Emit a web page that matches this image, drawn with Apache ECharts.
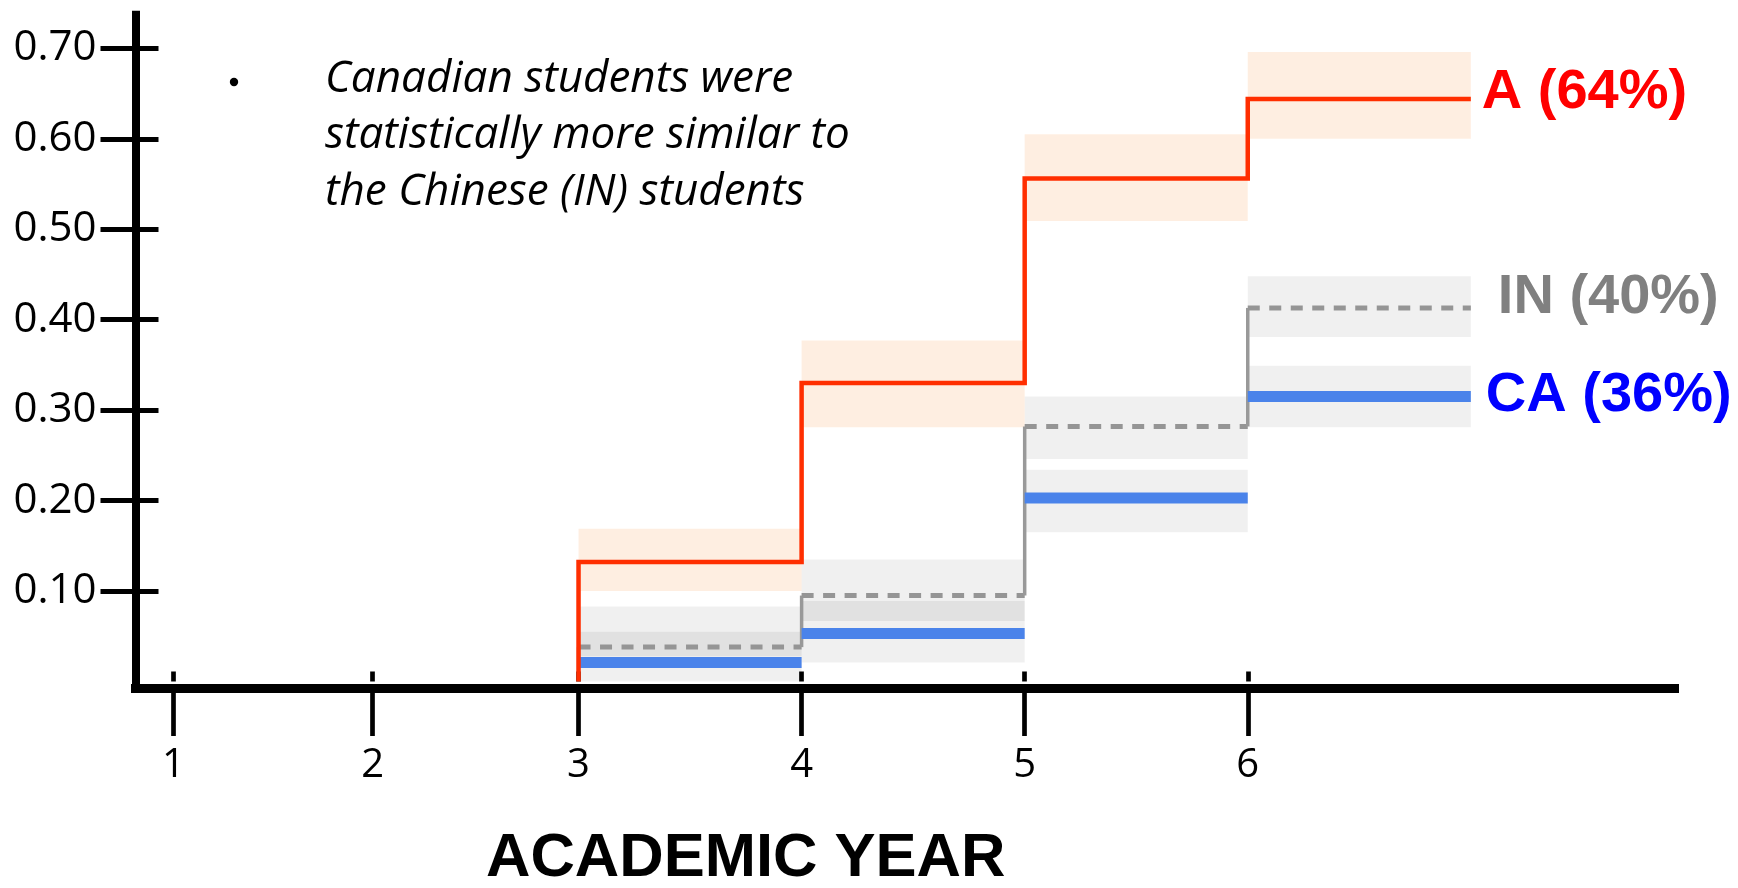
<!DOCTYPE html>
<html>
<head>
<meta charset="utf-8">
<script src="https://cdn.jsdelivr.net/npm/echarts@6/dist/echarts.min.js"></script>
<style>
  html, body { margin: 0; padding: 0; background: #ffffff; }
  #chart { width: 1738px; height: 888px; }
</style>
</head>
<body>
<div id="chart"></div>
<script>
// ---- data -------------------------------------------------------------
const stepYears = [3, 4, 5, 6];          // years where the cumulative rate steps
const lastYear = 7;                       // right end of the final step
const earlyYearTicks = [1, 2];
const stepYearTicks = [3, 4, 5, 6];
const rateTicks = [0.1, 0.2, 0.3, 0.4, 0.5, 0.6, 0.7];

const rateA    = [0.132, 0.330, 0.556, 0.644];
const rateALow = [0.100, 0.281, 0.509, 0.600];
const rateAHigh= [0.169, 0.377, 0.605, 0.696];

const rateIN    = [0.038, 0.095, 0.282, 0.413];
const rateINLow = [0.028, 0.067, 0.246, 0.381];
const rateINHigh= [0.083, 0.135, 0.315, 0.448];

const rateCA    = [0.021, 0.053, 0.203, 0.315];
const rateCALow = [0.000, 0.021, 0.165, 0.281];
const rateCAHigh= [0.055, 0.089, 0.234, 0.349];

const groupLabels = ['A (64%)', 'IN (40%)', 'CA (36%)'];
const noteLines = ['Canadian students were', 'statistically more similar to', 'the Chinese (IN) students'];
const xTitle = 'ACADEMIC YEAR';

// ---- helpers ----------------------------------------------------------
const segEnds = stepYears.slice(1).concat(lastYear);

function bandRows(low, high) {
  return stepYears.map((x, i) => [x, segEnds[i], low[i], high[i]]);
}
function stepRows(rate) {
  return stepYears.map((x, i) => [x, segEnds[i], rate[i], i === 0 ? 0 : rate[i - 1]]);
}

function bandSeries(rows, fill) {
  return {
    type: 'custom', z: 1, silent: true,
    encode: { x: [0, 1], y: [2, 3] },
    data: rows,
    renderItem: function (params, api) {
      const tl = api.coord([api.value(0), api.value(3)]);
      const br = api.coord([api.value(1), api.value(2)]);
      return {
        type: 'rect',
        shape: { x: tl[0], y: tl[1], width: br[0] - tl[0], height: br[1] - tl[1] },
        style: { fill: fill }
      };
    }
  };
}

const labelFont = 'bold 56px "Liberation Sans", Arial, sans-serif';

// step trace drawn segment by segment: optional verticals, styled horizontals
function stepSeries(rows, opt) {
  return {
    type: 'custom', z: opt.z, silent: true,
    encode: { x: [0, 1], y: [2, 3] },
    data: rows,
    renderItem: function (params, api) {
      const x0 = api.value(0), x1 = api.value(1), v = api.value(2), prev = api.value(3);
      const a = api.coord([x0, v]);
      const b = api.coord([x1, v]);
      const children = [];
      if (opt.vertical) {
        const p = api.coord([x0, prev]);
        children.push({
          type: 'line',
          shape: { x1: p[0], y1: p[1], x2: a[0], y2: a[1] },
          style: { stroke: opt.vertical.color, lineWidth: opt.vertical.width }
        });
      }
      children.push({
        type: 'line',
        shape: { x1: a[0], y1: a[1], x2: b[0], y2: b[1] },
        style: { stroke: opt.color, lineWidth: opt.width, lineDash: opt.dash || null, lineCap: 'butt' }
      });
      if (params.dataIndex === rows.length - 1) {
        children.push({
          type: 'text',
          x: b[0] + opt.labelDx, y: b[1] + opt.labelDy,
          style: { text: opt.label, fill: opt.labelColor, font: labelFont, align: 'left', verticalAlign: 'middle' }
        });
      }
      return { type: 'group', children: children };
    }
  };
}

// cumulative step line for group A: rises from zero at the first step year
const linePointsA = [[stepYears[0], 0]]
  .concat(stepYears.map((x, i) => [x, rateA[i]]))
  .concat([[lastYear, rateA[rateA.length - 1]]]);

// ---- layout -----------------------------------------------------------
const GRID = { left: 135.5, right: 63.5, top: 14.7, bottom: 200 };
const Y_MIN = -0.0072, Y_MAX = 0.7372;
const X_MIN = 1.014, X_MAX = 7.913;          // scale used by the step data
const EARLY_MIN = 0.8092, EARLY_MAX = 8.535; // tighter spacing for years 1-2

const tickFont = { fontFamily: '"Open Sans", "Liberation Sans", sans-serif', color: '#000' };

function xAxisDef(min, max, ticks, inside) {
  return {
    type: 'value', position: 'bottom', min: min, max: max,
    axisLine: inside ? { show: false } :
      { show: true, onZero: false, lineStyle: { color: '#000', width: 9, cap: 'square' } },
    axisTick: { show: true, inside: inside, length: inside ? 10 : 48, customValues: ticks,
                lineStyle: { color: '#000', width: 4.7 } },
    axisLabel: inside ? { show: false } :
      Object.assign({ show: true, customValues: ticks, margin: 58, fontSize: 40,
                      formatter: v => String(v) }, tickFont),
    splitLine: { show: false }
  };
}
function yAxisDef(inside) {
  return {
    type: 'value', position: 'left', min: Y_MIN, max: Y_MAX,
    axisLine: inside ? { show: false } :
      { show: true, onZero: false, lineStyle: { color: '#000', width: 8, cap: 'square' } },
    axisTick: { show: true, inside: inside, length: inside ? 23 : 35, customValues: rateTicks,
                lineStyle: { color: '#000', width: 5 } },
    axisLabel: inside ? { show: false } :
      Object.assign({ show: true, customValues: rateTicks, margin: 39, fontSize: 42,
                      padding: [0, 0, 6, 0], formatter: v => v.toFixed(2) }, tickFont),
    splitLine: { show: false }
  };
}

const chart = echarts.init(document.getElementById('chart'), null, { renderer: 'canvas' });

const noteFont = 'italic 44px "Open Sans", "Liberation Sans", sans-serif';
const noteCenters = [79, 135.5, 192];

chart.setOption({
  animation: false,
  backgroundColor: '#ffffff',
  grid: GRID,
  xAxis: [
    xAxisDef(X_MIN, X_MAX, stepYearTicks, false),
    xAxisDef(EARLY_MIN, EARLY_MAX, earlyYearTicks, false),
    xAxisDef(X_MIN, X_MAX, stepYearTicks, true),
    xAxisDef(EARLY_MIN, EARLY_MAX, earlyYearTicks, true)
  ],
  yAxis: [yAxisDef(false), yAxisDef(true)],
  series: [
    bandSeries(bandRows(rateALow, rateAHigh), 'rgba(247,150,70,0.16)'),
    bandSeries(bandRows(rateINLow, rateINHigh), 'rgba(0,0,0,0.06)'),
    bandSeries(bandRows(rateCALow, rateCAHigh), 'rgba(0,0,0,0.06)'),
    stepSeries(stepRows(rateIN), {
      z: 3, color: '#959595', width: 5, dash: [12, 9.5],
      vertical: { color: '#999999', width: 3.5 },
      label: groupLabels[1], labelColor: '#808080', labelDx: 27, labelDy: -10
    }),
    stepSeries(stepRows(rateCA), {
      z: 4, color: '#4a83ea', width: 11,
      label: groupLabels[2], labelColor: '#0000ff', labelDx: 15, labelDy: -1
    }),
    {
      type: 'line', z: 5, step: 'end', silent: true,
      data: linePointsA, symbol: 'none',
      lineStyle: { color: '#ff2e00', width: 4.5, join: 'miter' },
      endLabel: {
        show: true, formatter: groupLabels[0], color: '#ff0000',
        fontSize: 56, fontWeight: 'bold', fontFamily: '"Liberation Sans", Arial, sans-serif',
        distance: 11, offset: [0, -6]
      }
    }
  ],
  graphic: [
    { type: 'circle', shape: { cx: 234, cy: 82, r: 4.2 }, style: { fill: '#000' } }
  ].concat(noteLines.map((t, i) => ({
    type: 'text', x: 325, y: noteCenters[i],
    style: { text: t, font: noteFont, fill: '#000', verticalAlign: 'middle', align: 'left' }
  }))).concat([{
    type: 'text', x: 486, y: 859,
    style: { text: xTitle, font: 'bold 61.5px "Liberation Sans", Arial, sans-serif', fill: '#000',
             verticalAlign: 'middle', align: 'left' }
  }])
});
</script>
</body>
</html>
